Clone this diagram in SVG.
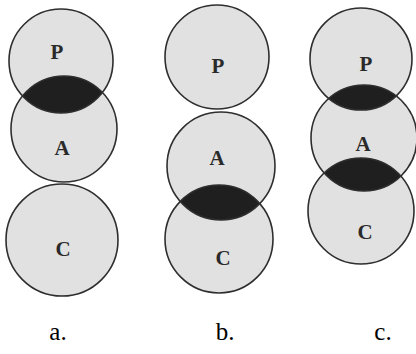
<svg xmlns="http://www.w3.org/2000/svg" width="416" height="354" viewBox="0 0 416 354">
<style>
.bg{fill:#ffffff}
.disc{fill:#e1e1e1;stroke:none}
.ring{fill:none;stroke:#2e2e2e;stroke-width:1.6}
.lens{fill:#1f1f1f}
.let{font-family:"Liberation Serif","Times New Roman",serif;font-weight:bold;font-size:21px;fill:#2a2a2a;text-anchor:middle}
.cap{font-family:"Liberation Serif","Times New Roman",serif;font-size:25px;fill:#000;text-anchor:middle}
</style>
<defs>
<clipPath id="clipPa"><circle cx="61" cy="61" r="52"/></clipPath>
<clipPath id="clipAb"><circle cx="221" cy="166" r="54"/></clipPath>
<clipPath id="clipPc"><circle cx="361" cy="59" r="51"/></clipPath>
<clipPath id="clipAc"><circle cx="364" cy="138" r="53"/></clipPath>
</defs>
<rect class="bg" x="0" y="0" width="416" height="354"/>
<g id="diagram-a">
<circle class="disc" cx="61" cy="61" r="52"/>
<circle class="disc" cx="64" cy="129" r="53"/>
<circle class="disc" cx="62" cy="240" r="56"/>
<circle class="lens" cx="64" cy="129" r="53" clip-path="url(#clipPa)"/>
<circle class="ring" cx="61" cy="61" r="52"/>
<circle class="ring" cx="64" cy="129" r="53"/>
<circle class="ring" cx="62" cy="240" r="56"/>
<text class="let" x="57" y="59">P</text>
<text class="let" x="62" y="155">A</text>
<text class="let" x="63" y="256">C</text>
</g>
<g id="diagram-b">
<circle class="disc" cx="217" cy="57" r="52"/>
<circle class="disc" cx="221" cy="166" r="54"/>
<circle class="disc" cx="219" cy="239" r="54"/>
<circle class="lens" cx="219" cy="239" r="54" clip-path="url(#clipAb)"/>
<circle class="ring" cx="217" cy="57" r="52"/>
<circle class="ring" cx="221" cy="166" r="54"/>
<circle class="ring" cx="219" cy="239" r="54"/>
<text class="let" x="218" y="73">P</text>
<text class="let" x="217" y="165">A</text>
<text class="let" x="223" y="265">C</text>
</g>
<g id="diagram-c">
<circle class="disc" cx="361" cy="59" r="51"/>
<circle class="disc" cx="364" cy="138" r="53"/>
<circle class="disc" cx="361" cy="211" r="53"/>
<circle class="lens" cx="364" cy="138" r="53" clip-path="url(#clipPc)"/>
<circle class="lens" cx="361" cy="211" r="53" clip-path="url(#clipAc)"/>
<circle class="ring" cx="361" cy="59" r="51"/>
<circle class="ring" cx="364" cy="138" r="53"/>
<circle class="ring" cx="361" cy="211" r="53"/>
<text class="let" x="366" y="71">P</text>
<text class="let" x="363" y="151">A</text>
<text class="let" x="365" y="239">C</text>
</g>
<g id="captions">
<text class="cap" x="58" y="340">a.</text>
<text class="cap" x="225" y="340">b.</text>
<text class="cap" x="383" y="340">c.</text>
</g>
</svg>
